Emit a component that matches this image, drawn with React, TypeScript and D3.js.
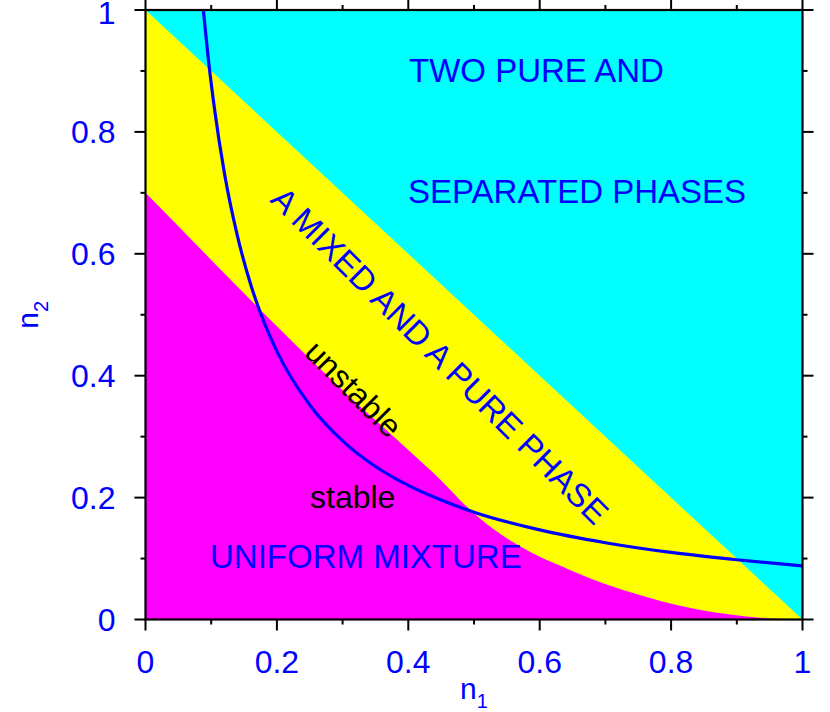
import React from 'react';
import * as d3 from 'd3';

// Axis ticks
const majorTicks = [0, 0.2, 0.4, 0.6, 0.8, 1];
const majorTickLabels = ['0', '0.2', '0.4', '0.6', '0.8', '1'];
const minorTicks = [0.1, 0.3, 0.5, 0.7, 0.9];

// Boundary between "mixed + pure" and "two pure" phases (straight line)
const pureLineN1 = [0, 1];
const pureLineN2 = [1, 0];

// Boundary of the uniform mixture region
const uniformN1 = [0, 0.1, 0.2, 0.3, 0.4, 0.45, 0.49, 0.53, 0.57, 0.6, 0.636, 0.687, 0.737, 0.788, 0.839, 0.89, 0.94, 1];
const uniformN2 = [0.7, 0.59, 0.481, 0.376, 0.278, 0.228, 0.184, 0.148, 0.12, 0.103, 0.086, 0.063, 0.045, 0.029, 0.017, 0.008, 0.0025, 0];

// Stability curve (blue)
const curveN1 = [0.088, 0.095, 0.105, 0.12, 0.14, 0.16, 0.18, 0.2, 0.25, 0.3, 0.35, 0.4, 0.45, 0.5, 0.6, 0.7, 0.8, 0.9, 1.0];
const curveN2 = [1.0, 0.926, 0.838, 0.733, 0.629, 0.55, 0.489, 0.44, 0.352, 0.293, 0.251, 0.22, 0.196, 0.176, 0.147, 0.126, 0.11, 0.098, 0.088];

const W = 830;
const H = 712;
const FONT = '"Liberation Sans", Arial, Helvetica, sans-serif';
const BLUE = '#0000ff';

export default function App() {
  const x = d3.scaleLinear().domain([0, 1]).range([145.5, 802.5]);
  const y = d3.scaleLinear().domain([0, 1]).range([619.5, 10]);

  const pureArea = d3
    .area<number>()
    .x((_, i) => x(pureLineN1[i]))
    .y0(() => y(0))
    .y1((d) => y(d));
  const uniformArea = d3
    .area<number>()
    .x((_, i) => x(uniformN1[i]))
    .y0(() => y(0))
    .y1((d) => y(d))
    .curve(d3.curveMonotoneX);
  const curveLine = d3
    .line<number>()
    .x((_, i) => x(curveN1[i]))
    .y((d) => y(d))
    .curve(d3.curveMonotoneX);

  const [x0, x1] = x.range();
  const [yb, yt] = y.range();
  const majLen = 11;
  const minLen = 5;

  return (
    <svg
      width={W}
      height={H}
      style={{ position: 'absolute', left: 0, top: 0, background: '#fff' }}
      fontFamily={FONT}
    >
      <defs>
        <clipPath id="plotClip">
          <rect x={x0} y={yt} width={x1 - x0} height={yb - yt} />
        </clipPath>
      </defs>
      <rect x={x0} y={yt} width={x1 - x0} height={yb - yt} fill="#00ffff" />
      <path d={pureArea(pureLineN2) || ''} fill="#ffff00" />
      <path d={uniformArea(uniformN2) || ''} fill="#ff00ff" />

      {/* region labels */}
      <text x={409} y={82} fontSize={33} fill={BLUE}>TWO PURE AND</text>
      <text x={408} y={203} fontSize={33} fill={BLUE}>SEPARATED PHASES</text>
      <text transform="translate(269,201) rotate(45)" fontSize={33} fill={BLUE}>
        A MIXED AND A PURE PHASE
      </text>
      <text transform="translate(303,354) rotate(45)" fontSize={32} fill="#000">
        unstable
      </text>
      <text x={310} y={508} fontSize={32} fill="#000">stable</text>
      <text x={210} y={568} fontSize={33} fill={BLUE}>UNIFORM MIXTURE</text>

      <path
        d={curveLine(curveN2) || ''}
        fill="none"
        stroke={BLUE}
        strokeWidth={3.2}
        clipPath="url(#plotClip)"
      />

      {/* frame */}
      <rect x={x0} y={yt} width={x1 - x0} height={yb - yt} fill="none" stroke="#000" strokeWidth={2.2} />

      {/* ticks */}
      {majorTicks.map((t) => (
        <g key={'M' + t} stroke="#000" strokeWidth={2}>
          <line x1={x(t)} x2={x(t)} y1={yb} y2={yb + majLen} />
          <line x1={x(t)} x2={x(t)} y1={yt} y2={yt - majLen} />
          <line y1={y(t)} y2={y(t)} x1={x0} x2={x0 - majLen} />
          <line y1={y(t)} y2={y(t)} x1={x1} x2={x1 + majLen} />
        </g>
      ))}
      {minorTicks.map((t) => (
        <g key={'m' + t} stroke="#000" strokeWidth={2}>
          <line x1={x(t)} x2={x(t)} y1={yb} y2={yb + minLen} />
          <line x1={x(t)} x2={x(t)} y1={yt} y2={yt - minLen} />
          <line y1={y(t)} y2={y(t)} x1={x0} x2={x0 - minLen} />
          <line y1={y(t)} y2={y(t)} x1={x1} x2={x1 + minLen} />
        </g>
      ))}

      {/* tick labels */}
      {majorTicks.map((t, i) => (
        <text key={'xl' + t} x={x(t)} y={673} textAnchor="middle" fontSize={32} fill={BLUE}>
          {majorTickLabels[i]}
        </text>
      ))}
      {majorTicks.map((t, i) => (
        <text key={'yl' + t} x={115.5} y={Math.max(y(t) + 11.3, 24)} textAnchor="end" fontSize={32} fill={BLUE}>
          {majorTickLabels[i]}
        </text>
      ))}

      {/* axis titles */}
      <text x={474} y={699} textAnchor="middle" fontSize={30} fill={BLUE}>
        n<tspan fontSize={20} dy={9}>1</tspan>
      </text>
      <text transform={`translate(37.5,${(yb + yt) / 2}) rotate(-90)`} textAnchor="middle" fontSize={30} fill={BLUE}>
        n<tspan fontSize={20} dy={10}>2</tspan>
      </text>
    </svg>
  );
}
